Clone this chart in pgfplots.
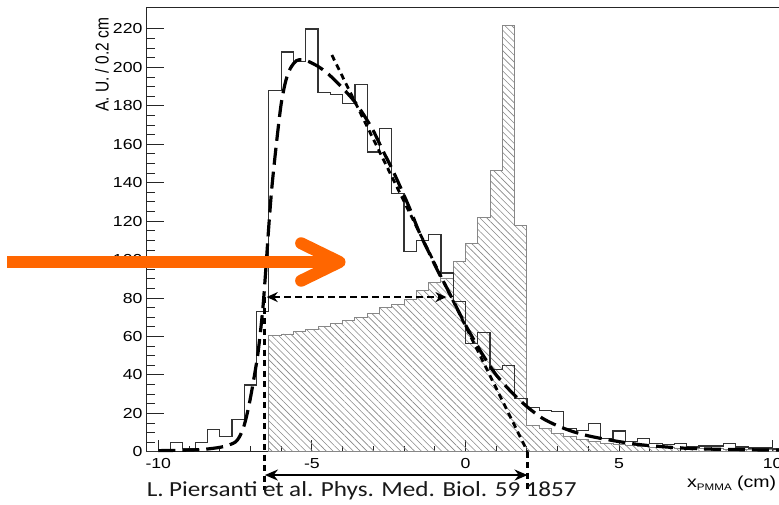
\documentclass[border=0pt]{standalone}
\usepackage{fontspec}
\setmainfont{Liberation Sans}[FakeStretch=1.22]
\newfontfamily\plainsans{Liberation Sans}
\newfontfamily\calibri{Carlito}[FakeStretch=1.17]
\usepackage{graphicx}
\usepackage{pgfplots}
\usepackage{pgfplotstable}
\pgfplotsset{compat=1.18}
\usetikzlibrary{patterns.meta,arrows.meta}
\definecolor{arroworange}{RGB}{255,102,0}
\definecolor{hatchgray}{RGB}{135,135,135}

\pgfplotstableread{
x y
-10.4 0
-10.0 1.3
-9.6 4.7
-9.2 1.8
-8.8 4.7
-8.4 11.7
-8.0 7.9
-7.6 16.9
-7.2 34.8
-6.8 72.9
-6.4 188
-6.0 208
-5.6 203
-5.2 220
-4.8 187
-4.4 186
-4.0 181
-3.6 191
-3.2 156
-2.8 168
-2.4 134.5
-2.0 104
-1.6 110
-1.2 113
-0.8 93
-0.4 78
0.0 56.5
0.4 62
0.8 43
1.2 45
1.6 27.7
2.0 23
2.4 21.5
2.8 21
3.2 12
3.6 11
4.0 14.8
4.4 7
4.8 10.8
5.2 5.5
5.6 7
6.0 4.5
6.4 4
6.8 4.5
7.2 2.5
7.6 3
8.0 3
8.4 4.5
8.8 2.5
9.2 2
9.6 2
10.0 1.5
10.4 1.5
}\openhist

\pgfplotstableread{
x y
-6.4 60.5
-6.0 61.3
-5.6 62.5
-5.2 63.8
-4.8 65.2
-4.4 66.8
-4.0 68.3
-3.6 70
-3.2 72
-2.8 75
-2.4 76.8
-2.0 79
-1.6 84
-1.2 88
-0.8 90
-0.4 99
0.0 108.5
0.4 122
0.8 146.5
1.2 222
1.6 117.5
2.0 13.5
2.4 12
2.8 9.5
3.2 8
3.6 6.5
4.0 5.5
4.4 4.5
4.8 3.8
5.2 3.3
5.6 2.8
6.0 2.5
6.4 2.2
6.8 2.0
7.2 1.8
7.6 1.6
8.0 1.5
8.4 1.4
8.8 1.3
9.2 1.2
9.6 1.1
10.0 1.0
10.4 1.0
}\hatchhist

\pgfplotstableread{
x y
-10.0 0.6
-9.0 0.9
-8.5 1.3
-8.0 2.3
-7.75 3.3
-7.5 5
-7.35 8
-7.2 14
-7.05 24
-6.9 37
-6.75 52
-6.6 74
-6.5 95
-6.4 118
-6.3 138
-6.15 161
-6.0 181
-5.85 193
-5.7 199.5
-5.5 203.5
-5.3 204
-5.1 203
-4.8 200.5
-4.5 197
-4.2 192.5
-3.9 187.5
-3.6 182
-3.3 175
-3.0 167
-2.7 157
-2.4 147.5
-2.1 137
-1.8 126
-1.5 114
-1.2 104
-0.9 94
-0.6 85
-0.3 75.5
0.0 66
0.3 57.5
0.6 49.5
1.0 40
1.5 31
2.0 23.5
2.5 17.5
3.0 13.5
3.5 10.5
4.0 8.3
4.5 6.7
5.0 5.3
5.5 4.1
6.0 3.2
7.0 2.0
8.0 1.4
9.0 1.1
10.0 0.9
10.4 0.85
}\fitcurve

\begin{document}
\begin{tikzpicture}
\begin{axis}[
  at={(146bp,-451.8bp)}, anchor=south west,
  scale only axis, width=639bp, height=444.8bp,
  xmin=-10.4, xmax=10.4, ymin=0, ymax=231.4,
  clip=false,
  axis line style={line width=0.9bp, black!85},
  xtick={-10,-5,0,5,10}, minor x tick num=4,
  ytick={0,20,...,220}, minor y tick num=3,
  tick pos=left,
  major tick length=15bp, minor tick length=8bp,
  xtick style={/pgfplots/major tick length=12bp,/pgfplots/minor tick length=6bp},
  ytick style={/pgfplots/major tick length=18bp,/pgfplots/minor tick length=9bp},
  every tick/.style={line width=0.9bp, black!85},
  tick label style={font=\fontsize{14.5bp}{16bp}\selectfont},
  /pgf/number format/assume math mode=true,
  yticklabel style={xshift=0bp},
  xticklabel style={yshift=-3bp},
]
% hatched histogram
\addplot[const plot, draw=hatchgray, line width=0.9bp,
  pattern={Lines[angle=-45,distance=4.8bp,line width=0.6bp]}, pattern color=hatchgray]
  table {\hatchhist} \closedcycle;
% open histogram
\addplot[const plot, draw=black!80, line width=1.2bp] table {\openhist};
% fit curve
\addplot[black, line width=3.2bp, dash pattern=on 17bp off 7bp, smooth] table {\fitcurve};
% tangent (dotted)
\addplot[black, line width=2.8bp, dash pattern=on 6bp off 4.5bp] coordinates {(-4.35,206.4) (2.02,0)};

% annotations
\draw[black, line width=2.8bp, dash pattern=on 6bp off 4.5bp] (axis cs:-6.53,80.5) -- (axis cs:-6.53,-19.9);
\draw[black, line width=2.8bp, dash pattern=on 6bp off 4.5bp] (axis cs:2.02,0) -- (axis cs:2.02,-19.9);
\draw[black, line width=2.8bp, dash pattern=on 6.5bp off 4.5bp,
  {Stealth[length=11bp,width=10bp]}-{Stealth[length=11bp,width=10bp]}]
  (axis cs:-6.47,80.5) -- (axis cs:-0.62,80.5);
\draw[black, line width=2.4bp,
  {Stealth[length=13bp,width=11bp]}-{Stealth[length=13bp,width=11bp]}]
  (axis cs:-6.53,-12.1) -- (axis cs:2.02,-12.1);

% orange arrow
\draw[arroworange, line width=12bp] (axis cs:-14.91,98.75) -- (axis cs:-4.3,98.75);
\draw[arroworange, line width=12bp, line cap=round, line join=round]
  (axis cs:-5.35,108.5) -- (axis cs:-4.10,98.75) -- (axis cs:-5.35,89.0);

% titles
\node[rotate=90, anchor=base east, inner sep=0pt, font=\plainsans\fontsize{15.5bp}{18bp}\selectfont]
  at (axis cs:-11.62,225.8) {\scalebox{1}[1.2]{A. U. / 0.2 cm}};
\node[anchor=base east, inner sep=0pt, font=\fontsize{16bp}{18bp}\selectfont]
  at (axis cs:10.12,-18.8) {x\raisebox{-2.5bp}{\fontsize{9.5bp}{10bp}\selectfont PMMA} (cm)};
\node[anchor=base west, inner sep=0pt, text=black!90, font=\calibri\fontsize{21.5bp}{24bp}\selectfont]
  at (axis cs:-10.38,-23.0) {\makebox[430bp][s]{L. Piersanti et al. Phys. Med. Biol. 59 1857}};
\end{axis}
\pgfresetboundingbox
\path[use as bounding box] (0bp,0bp) rectangle (779bp,-505bp);
\end{tikzpicture}
\end{document}
